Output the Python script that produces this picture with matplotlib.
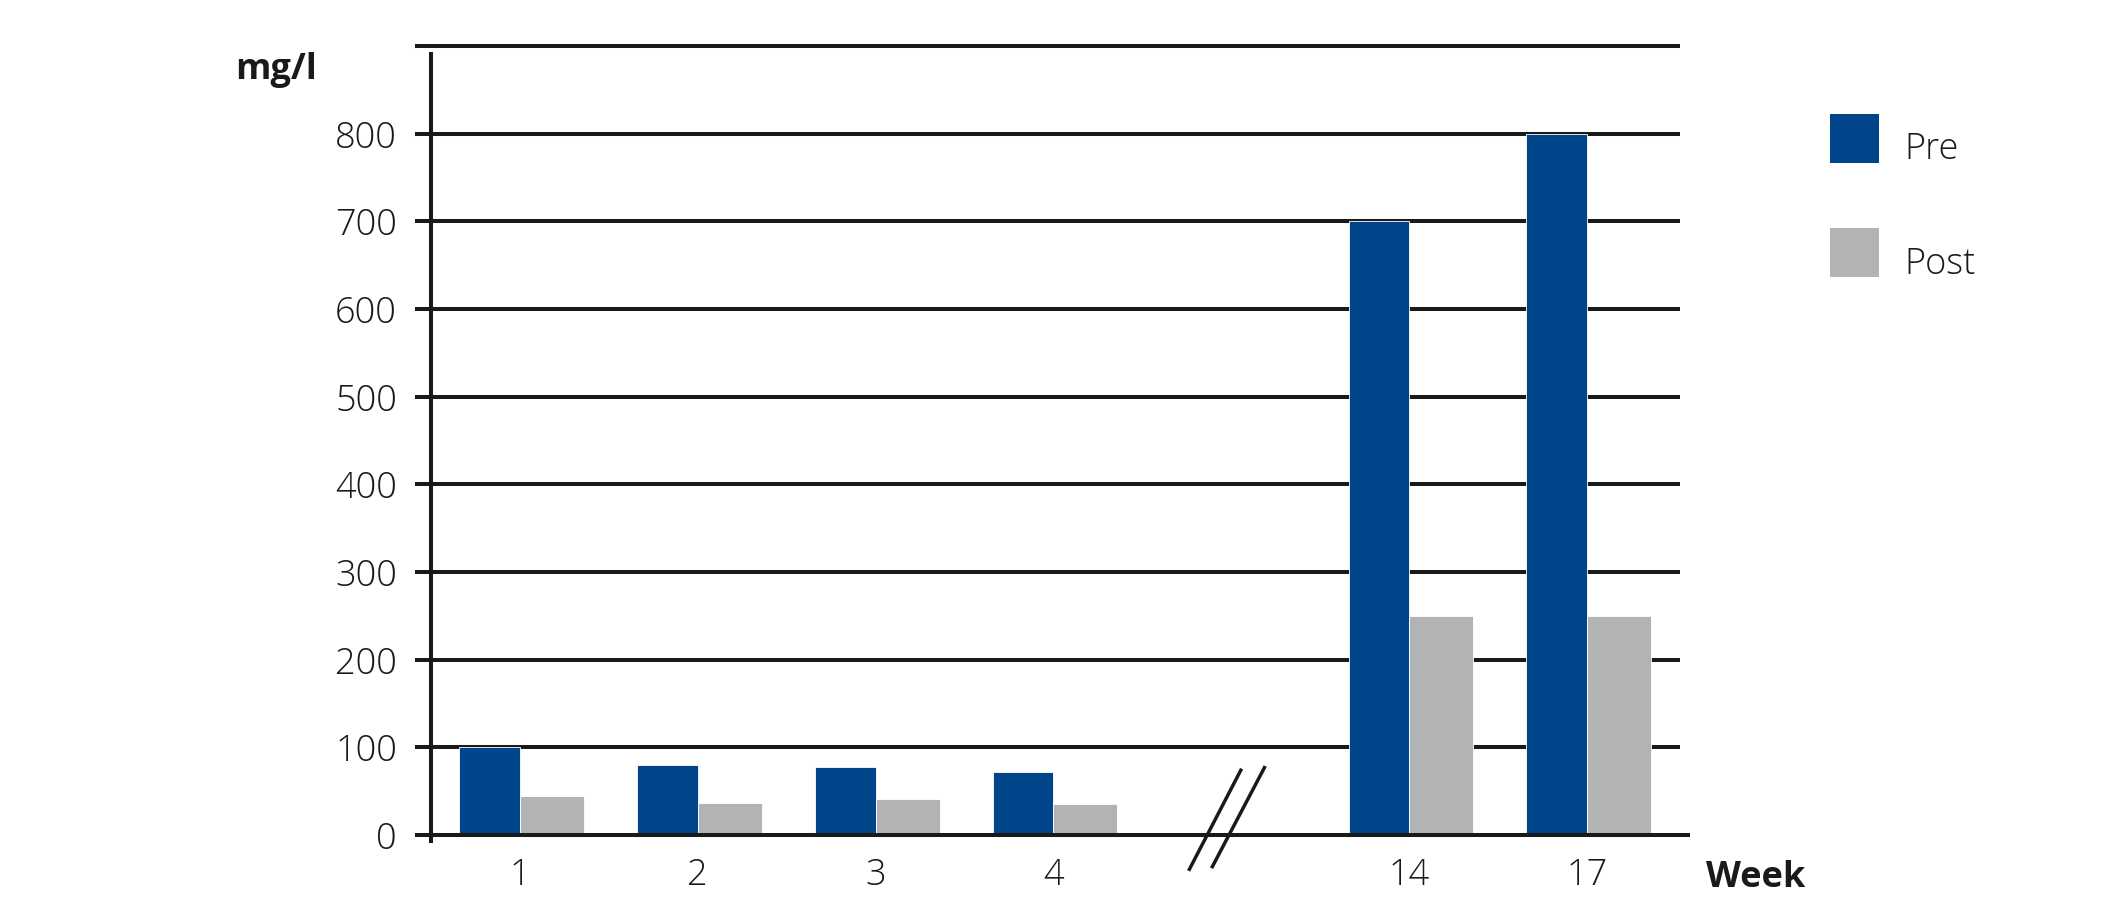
import matplotlib
matplotlib.use("Agg")
import matplotlib.pyplot as plt
from matplotlib.patches import Patch, Rectangle
from matplotlib.legend_handler import HandlerPatch

# ---- data ----
weeks = ["1", "2", "3", "4", "14", "17"]
positions = [0, 1, 2, 3, 5, 6]
pre_values = [100, 80, 78, 72, 700, 800]
post_values = [45, 37, 41, 36, 250, 250]
y_ticks = [0, 100, 200, 300, 400, 500, 600, 700, 800, 900]
y_tick_labels = ["0", "100", "200", "300", "400", "500", "600", "700", "800", ""]
series_names = ["Pre", "Post"]

PRE_COLOR = "#00448A"
POST_COLOR = "#B2B3B4"
LINE_COLOR = "#1a1a1a"
FONT = ["Open Sans", "DejaVu Sans"]
FS = 26

plt.rcParams["font.family"] = FONT

W, H = 2108, 923
fig = plt.figure(figsize=(W / 100, H / 100), dpi=100)

left_px, right_px, top_px, bottom_px = 431, 1680, 46, 843
ax = fig.add_axes([left_px / W, 1 - bottom_px / H,
                   (right_px - left_px) / W, (bottom_px - top_px) / H])

ax.set_xlim(-0.5, 6.524)
ax.set_ylim(-9, 900)

# bars
ax.bar(positions, pre_values, width=-0.34, align="edge", color=PRE_COLOR,
       edgecolor="white", linewidth=0.6, zorder=3)
ax.bar(positions, post_values, width=0.36, align="edge", color=POST_COLOR,
       edgecolor="white", linewidth=0.6, zorder=3)

# gridlines
for v in y_ticks:
    if v == 0:
        continue
    ax.hlines(v, -0.5, 6.524, color=LINE_COLOR, lw=2.9, zorder=1, clip_on=False)
ax.hlines(0, -0.5, 6.58, color=LINE_COLOR, lw=2.9, zorder=5, clip_on=False)

# spines
for s in ["top", "right", "bottom", "left"]:
    ax.spines[s].set_visible(False)
ax.vlines(-0.5, -9, 893, color=LINE_COLOR, lw=2.9, zorder=6, clip_on=False)

ax.set_yticks(y_ticks)
ax.set_yticklabels(y_tick_labels)
ax.tick_params(axis="y", length=11.5, width=2.9, color=LINE_COLOR, pad=13,
               labelsize=FS, labelcolor=LINE_COLOR)
ax.set_xticks(positions)
ax.set_xticklabels(weeks)
ax.tick_params(axis="x", length=0, pad=10, labelsize=FS, labelcolor=LINE_COLOR)
for lab in ax.get_xticklabels() + ax.get_yticklabels():
    lab.set_fontweight("light")

# axis break marks
ax.plot([3.765, 4.054], [-39, 74], color=LINE_COLOR, lw=2.5, clip_on=False, zorder=6)
ax.plot([3.894, 4.187], [-36, 77], color=LINE_COLOR, lw=2.5, clip_on=False, zorder=6)

# labels
fig.text(235 / W, 1 - 70 / H, "mg/l", fontsize=FS, fontweight="bold",
         ha="left", va="center", color=LINE_COLOR)
fig.text(1706 / W, 1 - 878 / H, "Week", fontsize=FS, fontweight="bold",
         ha="left", va="center", color=LINE_COLOR)

# legend (square raised slightly relative to its label)
RAISE = 6.5  # points


def raised_square(legend, orig_handle, xdescent, ydescent, width, height, fontsize):
    return Rectangle((-xdescent, -ydescent + RAISE), width, height)


handles = [Patch(facecolor=PRE_COLOR, edgecolor="none"),
           Patch(facecolor=POST_COLOR, edgecolor="none")]
leg = fig.legend(handles, series_names, loc="upper left",
                 bbox_to_anchor=(1830 / W, 1 - 123 / H), frameon=False,
                 fontsize=FS, handlelength=1.35, handleheight=1.7,
                 handletextpad=0.7, labelspacing=1.82, borderpad=0,
                 borderaxespad=0,
                 handler_map={Patch: HandlerPatch(patch_func=raised_square)})
for t in leg.get_texts():
    t.set_fontweight("light")
    t.set_color(LINE_COLOR)

fig.savefig("out.png", dpi=100)
